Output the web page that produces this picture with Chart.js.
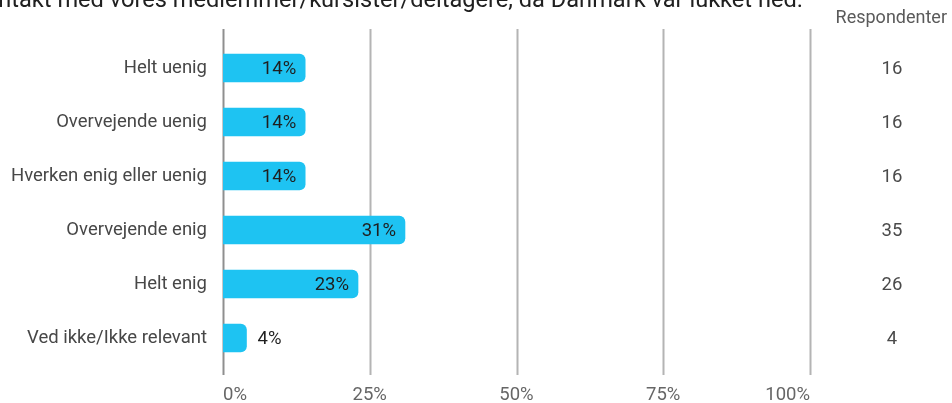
<!DOCTYPE html>
<html>
<head>
<meta charset="utf-8">
<script src="https://cdn.jsdelivr.net/npm/chart.js@4"></script>
<style>
  html, body { margin: 0; padding: 0; background: #fff; }
  #wrap { width: 952px; height: 403px; }
</style>
</head>
<body>
<div id="wrap"><canvas id="chart" width="952" height="403"></canvas></div>
<script>
const categories = ['Helt uenig', 'Overvejende uenig', 'Hverken enig eller uenig', 'Overvejende enig', 'Helt enig', 'Ved ikke/Ikke relevant'];
const percents = [14, 14, 14, 31, 23, 4];
const respondents = [16, 16, 16, 35, 26, 4];
const xTicks = [0, 25, 50, 75, 100];
const headerText = 'Vi har holdt kontakt med vores medlemmer/kursister/deltagere, da Danmark var lukket ned.';
const columnTitle = 'Respondenter';

const FONT = 'Roboto, "Noto Sans", sans-serif';

// vertical grid, drawn a bit taller than the plot area
const gridPlugin = {
  id: 'grid',
  beforeDatasetsDraw(chart) {
    const ctx = chart.ctx;
    const x = chart.scales.x;
    const area = chart.chartArea;
    ctx.save();
    xTicks.forEach(v => {
      const px = Math.round(x.getPixelForValue(v)) + 0.5;
      ctx.strokeStyle = v === 0 ? '#8f8f8f' : '#b4b4b4';
      ctx.lineWidth = 2;
      ctx.beginPath();
      ctx.moveTo(px, area.top - 12);
      ctx.lineTo(px, area.bottom + 10);
      ctx.stroke();
    });
    ctx.restore();
  }
};

// percent labels on the bars, the respondent column and the header line
const textPlugin = {
  id: 'texts',
  afterDatasetsDraw(chart) {
    const ctx = chart.ctx;
    const meta = chart.getDatasetMeta(0);
    ctx.save();
    ctx.textBaseline = 'middle';
    ctx.font = '18.5px ' + FONT;
    meta.data.forEach((bar, i) => {
      const label = percents[i] + '%';
      const w = ctx.measureText(label).width;
      ctx.fillStyle = '#1f1f1f';
      if (bar.x - bar.base > w + 20) {
        ctx.textAlign = 'right';
        ctx.fillText(label, bar.x - 9, bar.y + 1);
      } else {
        ctx.textAlign = 'left';
        ctx.fillText(label, bar.x + 11, bar.y + 1);
      }
      ctx.fillStyle = '#4a4a4a';
      ctx.textAlign = 'center';
      ctx.fillText(String(respondents[i]), 892, bar.y + 1);
    });

    ctx.font = '18px ' + FONT;
    ctx.fillStyle = '#5a5a5a';
    ctx.textAlign = 'right';
    ctx.fillText(columnTitle, 947, 18);

    ctx.font = '23.6px ' + FONT;
    ctx.fillStyle = '#202020';
    ctx.textAlign = 'right';
    ctx.textBaseline = 'alphabetic';
    ctx.fillText(headerText, 803, 7);
    ctx.restore();
  }
};

new Chart(document.getElementById('chart'), {
  type: 'bar',
  data: {
    labels: categories,
    datasets: [{
      data: percents,
      backgroundColor: '#1ec3f2',
      borderRadius: 6,
      borderSkipped: 'start',
      barThickness: 28
    }]
  },
  options: {
    indexAxis: 'y',
    responsive: false,
    animation: false,
    layout: { padding: { top: 41, right: 142, left: 0, bottom: 0 } },
    plugins: {
      legend: { display: false },
      tooltip: { enabled: false }
    },
    scales: {
      x: {
        min: 0,
        max: 100,
        afterFit(scale) { scale.height = 38; },
        afterBuildTicks(scale) { scale.ticks = xTicks.map(v => ({ value: v })); },
        grid: { display: false },
        border: { display: false },
        ticks: {
          padding: 11,
          align: 'inner',
          color: '#666',
          font: { family: FONT, size: 18.5 },
          callback: v => v + '%'
        }
      },
      y: {
        afterFit(scale) { scale.width = 223; },
        grid: { display: false, drawTicks: false },
        border: { display: false },
        ticks: {
          padding: 16,
          color: '#474747',
          font: { family: FONT, size: 18.5 }
        }
      }
    }
  },
  plugins: [gridPlugin, textPlugin]
});
</script>
</body>
</html>
